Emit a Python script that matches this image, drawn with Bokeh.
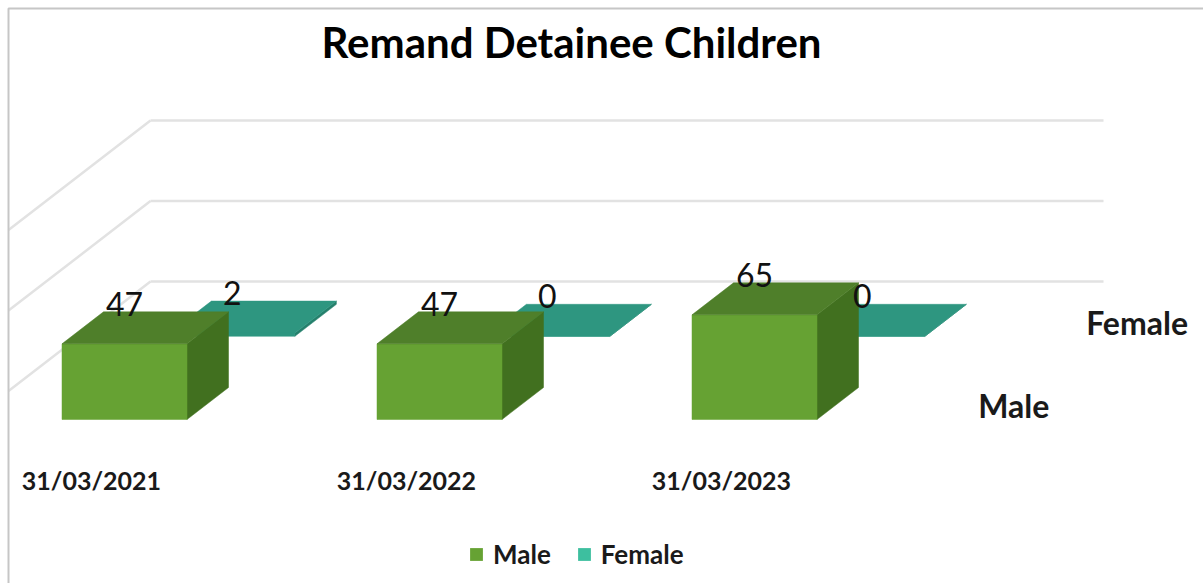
from bokeh.plotting import figure
from bokeh.models import Range1d, Legend, LegendItem
from bokeh.embed import file_html
from bokeh.resources import INLINE
from bokeh.core.properties import value

# ---------------- data ----------------
title = "Remand Detainee Children"
categories = ["31/03/2021", "31/03/2022", "31/03/2023"]
series_names = ["Male", "Female"]
male = [47, 47, 65]
female = [2, 0, 0]
grid_values = [0, 50, 100]

# ---------------- styling / layout ----------------
W, H = 1203, 583
CAT0_PX, CAT_PX = 124.0, 315.0          # first category centre, spacing (px)
VAL_PX, FLOOR_PX = 1.61, 419.0           # px per unit, floor line (px from top)
DEPTH_DX_PX, DEPTH_DY_PX = 41.5, 32.0    # oblique projection of one depth unit
BAR_W = 125.0 / CAT_PX
DEPTH_DX = DEPTH_DX_PX / CAT_PX
DEPTH_DY = DEPTH_DY_PX / VAL_PX

def px_x(px):
    return (px - CAT0_PX) / CAT_PX

def px_y(py):
    return (FLOOR_PX - py) / VAL_PX

SERIES_DEPTH = {"Male": (0.0, 1.0), "Female": (2.6, 3.6)}
WALL_DEPTH = 4.31
WALL_LEFT = px_x(150) - WALL_DEPTH * DEPTH_DX
WALL_RIGHT = px_x(1103) - WALL_DEPTH * DEPTH_DX
BORDER_X, BORDER_Y = px_x(8), px_y(8)

COL = {
    "Male": {"base": "#66A233", "front": "#66A233", "top": "#4F7F2A", "side": "#41701F"},
    "Female": {"base": "#3DBF9F", "front": "#2E9680", "top": "#2E9680", "side": "#25806C"},
}
GRID_COLOR = "#E2E2E2"
FONT = "Lato"


def proj(x, v, d):
    return x + d * DEPTH_DX, v + d * DEPTH_DY


def box_faces(i, v, d0, d1):
    xl, xr = i - BAR_W / 2, i + BAR_W / 2
    def poly(pts):
        xs, ys = zip(*[proj(*p) for p in pts])
        return list(xs), list(ys)
    front = poly([(xl, 0, d0), (xr, 0, d0), (xr, v, d0), (xl, v, d0)])
    top = poly([(xl, v, d0), (xr, v, d0), (xr, v, d1), (xl, v, d1)])
    side = poly([(xr, 0, d0), (xr, 0, d1), (xr, v, d1), (xr, v, d0)])
    return front, top, side


p = figure(width=W, height=H, output_backend="svg", toolbar_location=None,
           x_range=Range1d(px_x(0), px_x(W)), y_range=Range1d(px_y(H), px_y(0)),
           x_axis_location=None, y_axis_location=None, min_border=0)
p.outline_line_alpha = 0
p.xgrid.visible = False
p.ygrid.visible = False
p.background_fill_color = "white"
p.border_fill_color = "white"

# ---- gridlines on back wall and side wall ----
side_end = (BORDER_X - WALL_LEFT) / DEPTH_DX
for g in grid_values:
    bx0, by0 = proj(WALL_LEFT, g, WALL_DEPTH)
    bx1, by1 = proj(WALL_RIGHT, g, WALL_DEPTH)
    p.line([bx0, bx1], [by0, by1], line_color=GRID_COLOR, line_width=2.5)
    sx, sy = proj(WALL_LEFT, g, side_end)
    p.line([sx, bx0], [sy, by0], line_color=GRID_COLOR, line_width=2.5)

# ---- bars (back series first) ----
for name, vals in (("Female", female), ("Male", male)):
    d0, d1 = SERIES_DEPTH[name]
    fronts, tops, sides = ([], []), ([], []), ([], [])
    for i, v in enumerate(vals):
        f, t, s = box_faces(i, v, d0, d1)
        for acc, face in ((fronts, f), (tops, t), (sides, s)):
            acc[0].append(face[0]); acc[1].append(face[1])
    p.patches(sides[0], sides[1], fill_color=COL[name]["side"],
              line_color=COL[name]["side"], line_width=0.5)
    p.patches(fronts[0], fronts[1], fill_color=COL[name]["front"],
              line_color=COL[name]["front"], line_width=0.5)
    p.patches(tops[0], tops[1], fill_color=COL[name]["top"],
              line_color=COL[name]["top"], line_width=0.5)

# legend swatches use each series' base colour (zero-area patch at origin)
legend_renderers = {
    n: p.patches(xs=[[0, 0, 0]], ys=[[0, 0, 0]], fill_color=COL[n]["base"],
                 line_alpha=0)
    for n in series_names
}

# ---- value labels ----
for name, vals in (("Female", female), ("Male", male)):
    d0, d1 = SERIES_DEPTH[name]
    xs = [proj(i, 0, d0)[0] for i in range(len(vals))]
    ys = [proj(0, v, d1)[1] + 5 for v in vals]
    p.text(xs, ys, text=[str(v) for v in vals], text_align="center",
           text_baseline="middle", text_font=value(FONT), text_font_size="32px",
           text_color="#111111")

# ---- category labels ----
p.text([i - 0.105 for i in range(len(categories))], [px_y(479)] * len(categories),
       text=categories, text_align="center", text_baseline="middle",
       text_font=value(FONT), text_font_style="bold", text_font_size="25px",
       text_color="#1a1a1a")

# ---- depth (series) labels ----
DEPTH_LABEL_X = px_x(957)
for name in series_names:
    d0, d1 = SERIES_DEPTH[name]
    dm = (d0 + d1) / 2
    lx, ly = proj(DEPTH_LABEL_X, -1.2, dm)
    p.text([lx], [ly], text=[name], text_align="left", text_baseline="middle",
           text_font=value(FONT), text_font_style="bold", text_font_size="32px",
           text_color="#1a1a1a")

# ---- title ----
p.text([px_x(571)], [px_y(41)], text=[title], text_align="center",
       text_baseline="middle", text_font=value(FONT), text_font_style="bold",
       text_font_size="42px", text_color="#000000")

# ---- chart border ----
p.line([BORDER_X, BORDER_X, px_x(W + 5)], [px_y(H + 5), BORDER_Y, BORDER_Y],
       line_color="#C6C6C6", line_width=2)

# ---- legend ----
legend = Legend(items=[LegendItem(label=n, renderers=[legend_renderers[n]])
                       for n in series_names],
                orientation="horizontal", location=(468, 13),
                glyph_width=16, glyph_height=16, label_standoff=9, spacing=25,
                padding=0, margin=0, border_line_alpha=0,
                background_fill_alpha=0,
                label_text_font=FONT, label_text_font_style="bold",
                label_text_font_size="26px", label_text_color="#1a1a1a")
p.add_layout(legend, "center")

open("out.html", "w").write(file_html(p, INLINE))
